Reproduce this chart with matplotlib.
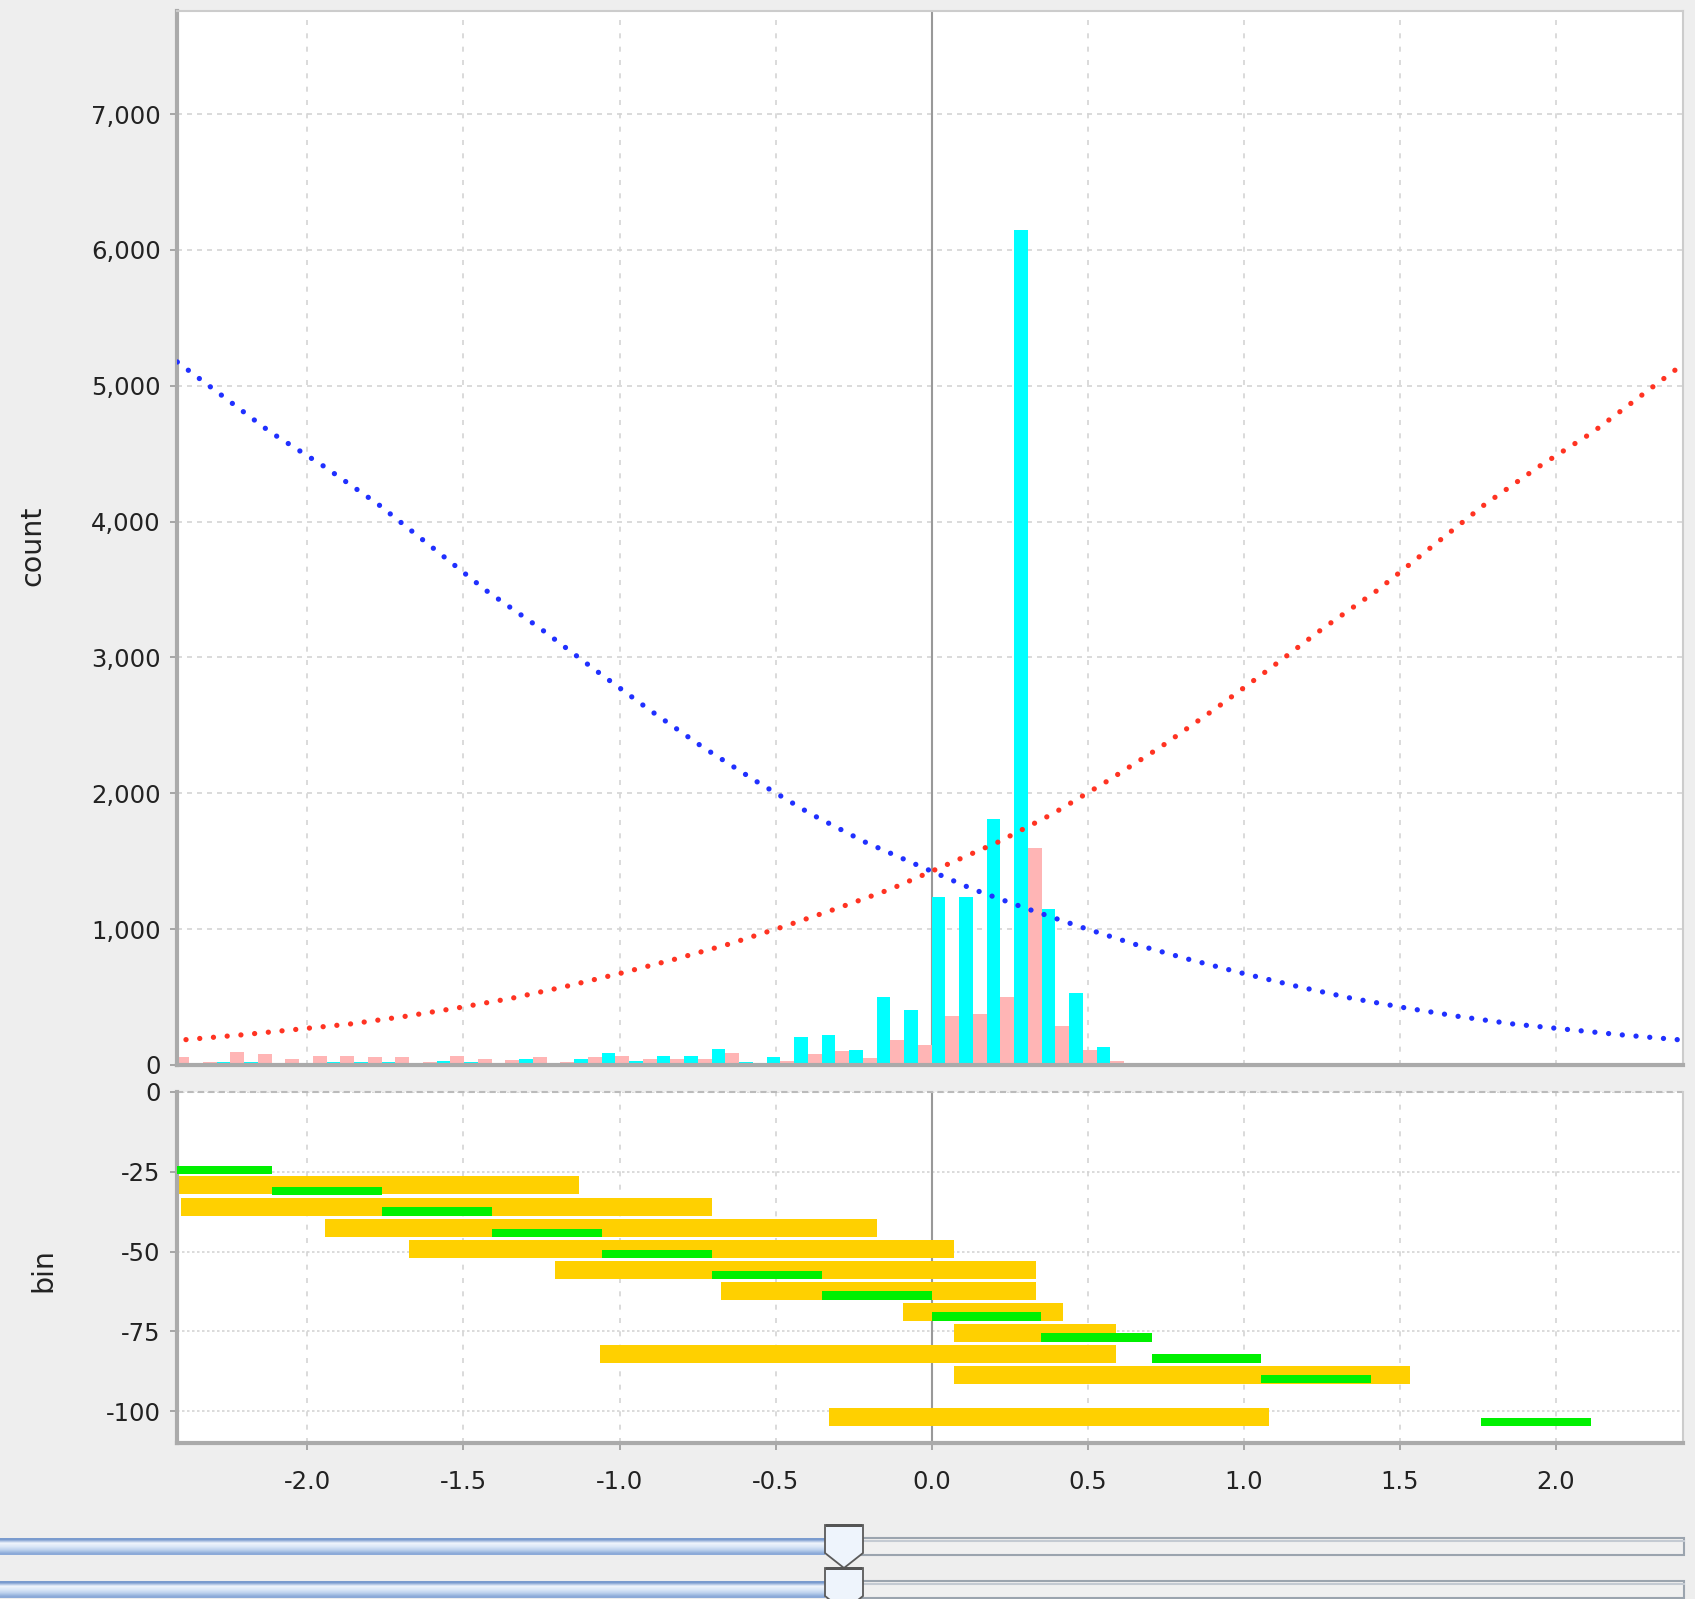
import numpy as np
import matplotlib.pyplot as plt
from matplotlib.patches import Rectangle, Polygon
from matplotlib.ticker import FuncFormatter

plt.rcParams['font.family'] = 'DejaVu Sans'
plt.rcParams['axes.unicode_minus'] = False

# histogram, two series per bin (left half / right half)
bin_width = 0.0881
bin_index = np.arange(-28, 28)
cyan_counts = [0, 5, 24, 24, 5, 7, 22, 24, 20, 5, 29, 22, 5, 42, 7, 42,
               85, 32, 66, 64, 117, 24, 56, 203, 220, 108, 497, 405,
               1240, 1236, 1811, 6150, 1146, 532, 130, 7,
               2, 2, 2, 12, 10, 2, 2, 2, 2, 2, 2, 2, 2, 2, 8, 2, 2, 2, 2, 2]
pink_counts = [61, 20, 98, 81, 44, 64, 69, 56, 59, 24, 69, 44, 39, 59, 22, 61,
               69, 46, 42, 46, 86, 5, 32, 81, 102, 50, 181, 145,
               358, 376, 499, 1595, 287, 110, 32] + [0] * 21

# dotted curves (the rising one is the mirror image of the falling one)
curve_x = [-2.417, -2.293, -2.119, -1.946, -1.773, -1.600, -1.427, -1.254,
           -1.081, -0.907, -0.734, -0.561, -0.388, -0.215, -0.042, 0.132,
           0.305, 0.478, 0.651, 0.824, 0.997, 1.171, 1.344, 1.517, 1.690,
           1.863, 2.036, 2.210, 2.408]
falling = [5175, 4961, 4659, 4405, 4127, 3810, 3492, 3214, 2913, 2619, 2341,
           2087, 1849, 1643, 1468, 1294, 1151, 1016, 889, 778, 675, 579, 492,
           421, 357, 302, 262, 222, 183]

# bin panel: gold ranges and green ranges
gold_lo = [-2.45, -2.404, -1.944, -1.674, -1.208, -0.675, -0.091, 0.072, -1.062, 0.072, -0.330]
gold_hi = [-1.131, -0.705, -0.176, 0.072, 0.336, 0.336, 0.420, 0.592, 0.592, 1.532, 1.082]
gold_row = [-29.3, -36.0, -42.6, -49.2, -55.9, -62.4, -69.0, -75.6, -82.0, -88.5, -101.8]

green_lo = [-2.467, -2.114, -1.762, -1.409, -1.057, -0.705, -0.352, 0.0, 0.352, 0.705, 1.057, 1.762]
green_hi = [-2.114, -1.762, -1.409, -1.057, -0.705, -0.352, 0.0, 0.352, 0.705, 1.057, 1.409, 2.114]
green_row = [-24.4, -31.0, -37.5, -44.2, -50.8, -57.3, -63.8, -70.3, -76.9, -83.5, -89.9, -103.3]

x_ticks = [-2.0, -1.5, -1.0, -0.5, 0.0, 0.5, 1.0, 1.5, 2.0]
count_ticks = [0, 1000, 2000, 3000, 4000, 5000, 6000, 7000]
bin_ticks = [0, -25, -50, -75, -100]

W, H = 1695, 1599
fig = plt.figure(figsize=(W / 100, H / 100), dpi=100, facecolor='#eeeeee')

ax = fig.add_axes([177.3 / W, 1 - 1065 / H, 1505.8 / W, 1054.2 / H])
ax2 = fig.add_axes([177.3 / W, 1 - 1443.3 / H, 1505.8 / W, 351.6 / H])

spine_dark = '#aaaaaa'
spine_light = '#cccccc'
grid_col = '#d4d4d4'
text_col = '#222222'


def style(a):
    a.set_facecolor('white')
    a.set_xlim(-2.417, 2.408)
    a.set_xticks(x_ticks)
    for s in ['left', 'bottom']:
        a.spines[s].set_color(spine_dark)
        a.spines[s].set_linewidth(3)
    for s in ['top', 'right']:
        a.spines[s].set_color(spine_light)
        a.spines[s].set_linewidth(1.5)
    a.tick_params(colors='#999999', labelcolor=text_col, labelsize=17.5,
                  length=5, width=1.2)
    a.tick_params(axis='y', pad=7)
    a.tick_params(axis='x', pad=14)
    a.set_axisbelow(True)
    a.axvline(0, color='#999999', lw=1.5, zorder=1)


# top panel: histogram + dotted curves
style(ax)
edges = bin_index * bin_width
ax.bar(edges, cyan_counts, width=bin_width / 2, align='edge', color='#00ffff',
       linewidth=0, zorder=2)
ax.bar(edges + bin_width / 2, pink_counts, width=bin_width / 2, align='edge',
       color='#ffb5b5', linewidth=0, zorder=2)
ax.plot(curve_x, falling, color='#2030ff', lw=3.8, linestyle=(0, (0.01, 2.6)),
        dash_capstyle='round', zorder=3)
ax.plot([-v for v in curve_x], falling, color='#ff3322', lw=3.8,
        linestyle=(0, (0.01, 2.6)), dash_capstyle='round', zorder=3)
ax.set_ylim(0, 7760)
ax.set_yticks(count_ticks)
ax.yaxis.set_major_formatter(FuncFormatter(lambda v, p: '{:,.0f}'.format(v)))
ax.tick_params(axis='x', length=0, labelbottom=False)
ax.grid(True, axis='y', color=grid_col, lw=1.2, linestyle=(0, (3, 3)))
ax.grid(True, axis='x', color=grid_col, lw=1.2, linestyle=(0, (3, 5)))

# lower panel: bin ranges
style(ax2)
ax2.barh(gold_row, np.array(gold_hi) - np.array(gold_lo), left=gold_lo,
         height=5.6, color='#ffd000', linewidth=0, zorder=2)
ax2.barh(green_row, np.array(green_hi) - np.array(green_lo), left=green_lo,
         height=2.6, color='#00f000', linewidth=0, zorder=3)
ax2.set_ylim(-110, 0)
ax2.set_yticks(bin_ticks)
ax2.xaxis.set_major_formatter(FuncFormatter(lambda v, p: '{:.1f}'.format(v)))
ax2.spines['top'].set_visible(False)
ax2.grid(True, axis='y', color=grid_col, lw=1.2, linestyle=(0, (1.5, 1.5)))
ax2.grid(True, axis='x', color=grid_col, lw=1.2, linestyle=(0, (3, 5)))
ax2.axhline(0, color='#bbbbbb', lw=1.5, linestyle=(0, (3, 2)), zorder=1, clip_on=False)

fig.text(32 / W, 1 - 546 / H, 'count', rotation=90, ha='center', va='center',
         fontsize=20.5, color=text_col)
fig.text(43 / W, 1 - 1270 / H, 'bin', rotation=90, ha='center', va='center',
         fontsize=20.5, color=text_col)

# two range sliders below the plot
ui = fig.add_axes([0, 0, 1, 1], zorder=-1)
ui.set_xlim(0, W)
ui.set_ylim(H, 0)
ui.axis('off')
blue_grad = np.array([[0.48, 0.61, 0.81], [0.94, 0.96, 0.99], [0.86, 0.91, 0.97],
                      [0.74, 0.82, 0.93], [0.55, 0.67, 0.85]])[:, None, :]
thumb_x = 844
for top in [1538, 1581]:
    ui.imshow(blue_grad, extent=(0, thumb_x - 19, top + 17, top), aspect='auto',
              interpolation='bilinear', zorder=1)
    ui.add_patch(Rectangle((thumb_x, top), 1684 - thumb_x, 17, facecolor='#f0f0f0',
                           edgecolor='#9ba4ae', lw=1.5, zorder=1))
    ui.plot([thumb_x, 1684], [top + 2.5, top + 2.5], color='#c4cad2', lw=1.5, zorder=1)
for cap in [1525, 1568]:
    pts = [(thumb_x - 19, cap), (thumb_x + 19, cap), (thumb_x + 19, cap + 28),
           (thumb_x, cap + 43), (thumb_x - 19, cap + 28)]
    ui.add_patch(Polygon(pts, closed=True, facecolor='#eef4fc', edgecolor='#5a5a5a',
                         lw=1.3, zorder=2))
    ui.add_patch(Rectangle((thumb_x - 18, cap - 1.5), 36, 3.5, facecolor='#555555',
                           lw=0, zorder=3))
ui.set_xlim(0, W)
ui.set_ylim(H, 0)

fig.savefig('out.png', dpi=100, facecolor=fig.get_facecolor())
